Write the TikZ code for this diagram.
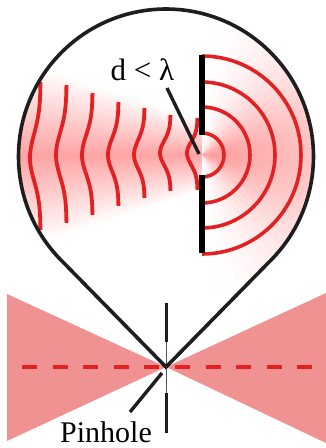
\documentclass[tikz,border=0pt]{standalone}
\usepackage{fontspec}
\setmainfont{Liberation Serif}
\usetikzlibrary{calc}
\definecolor{wavered}{RGB}{226,34,34}
\definecolor{ink}{RGB}{30,30,30}
\definecolor{conepink}{RGB}{240,146,146}
\definecolor{bandpink}{RGB}{255,164,164}
\definecolor{glowpink}{RGB}{255,152,152}
\tikzset{
  rimline/.style={draw=ink, line width=3.6pt, line join=miter},
  wavepath/.style={draw=wavered, line width=3.8pt},
  frontarc/.style={draw=wavered, line width=3.6pt},
  screenbar/.style={draw=black, line width=5.5pt},
  pinbar/.style={draw=ink, line width=3.4pt},
  pingap/.style={draw=ink!75, line width=1.4pt},
  leaderline/.style={draw=ink, line width=3.4pt},
  beamfill/.style={fill=conepink},
  axisdash/.style={draw=wavered, line width=3.4pt, dash pattern=on 15pt off 15.6pt},
  textlabel/.style={inner sep=0pt},
}
\begin{document}
\begin{tikzpicture}[x=1pt,y=-1pt]
\useasboundingbox (0,0) rectangle (326,448);
\coordinate (c) at (166,156.5);
\coordinate (apex) at (166,367);
\coordinate (hole) at (202,155);

% magnified view: light field inside the round lens
\begin{scope}
  \clip (c) circle (147.5);
  % converging band of aberrated light on the left
  \foreach \i in {0,...,62} {
    \pgfmathsetmacro\xa{15+3*\i}
    \pgfmathsetmacro\hh{95-(\xa-20)*60/180}
    \shade[top color=white, bottom color=white, middle color=bandpink]
      (\xa,155-\hh) rectangle (\xa+4,155+\hh);
  }
  % diffracted glow behind the aperture
  \foreach \a in {-90,-85,...,85} {
    \pgfmathsetmacro\w{100*cos(\a+2.5)^2}
    \begin{scope}
      \clip (hole) -- +(\a:200) -- +(\a+6:200) -- cycle;
      \shade[inner color=glowpink!\w!white, outer color=white] (hole) circle (250);
    \end{scope}
  }
  % distorted incoming wavefronts: x of the dent, top, dent and bottom y
  \foreach \xm/\yt/\ym/\yb in {30/82/158/230, 56/85/155/223, 82/93/155/215,
      108/102/155/206, 134/108/155/198, 160/115/153/191, 187/118/153/190} {
    \draw[wavepath] plot[domain=-1:1, samples=41, variable=\u, smooth]
      ({\xm+10.5*(1-exp(-(\u/0.45)^2))},
       {\ym+\u*((\u<0)*(\ym-\yt)+(\u>=0)*(\yb-\ym))});
  }
  % clean spherical wavefronts
  \foreach \r in {22,48,73,99}
    \draw[frontarc] ($(hole)+(0,-\r)$) arc[start angle=-90, end angle=90, radius=\r];
\end{scope}

% opaque screen with the small aperture
\draw[screenbar] (202,55) -- (202,135);
\draw[screenbar] (202,175) -- (202,253);

% focused beam through the pinhole
\fill[beamfill] (7,294) -- (7,441) -- (apex) -- cycle;
\fill[beamfill] (326,293) -- (326,443) -- (apex) -- cycle;
\draw[axisdash] (22,367) -- (313,367);

% pinhole plate
\draw[pinbar] (166.5,303) -- (166.5,342);
\draw[pingap] (166.5,342) -- (166.5,393);
\draw[pinbar] (166.5,393) -- (166.5,433);

% magnifier outline
\draw[rimline] (apex) -- ($(c)+(135.5:147.5)$)
  arc[start angle=135.5, end angle=404.5, radius=147.5] -- cycle;

% labels
\node[textlabel, anchor=base, font=\fontsize{31}{34}\selectfont] (dlabel) at (142.5,80) {d < λ};
\coordinate (dtail) at (167,88);
\coordinate (dtip) at (199,154);
\draw[leaderline] (dtail) -- (dtip);

\node[textlabel, anchor=base, font=\fontsize{30}{34}\selectfont] (pinlabel) at (106,442) {Pinhole};
\coordinate (ptail) at (130,412);
\coordinate (ptip) at (162,373);
\draw[leaderline] (ptail) -- (ptip);
\end{tikzpicture}
\end{document}
